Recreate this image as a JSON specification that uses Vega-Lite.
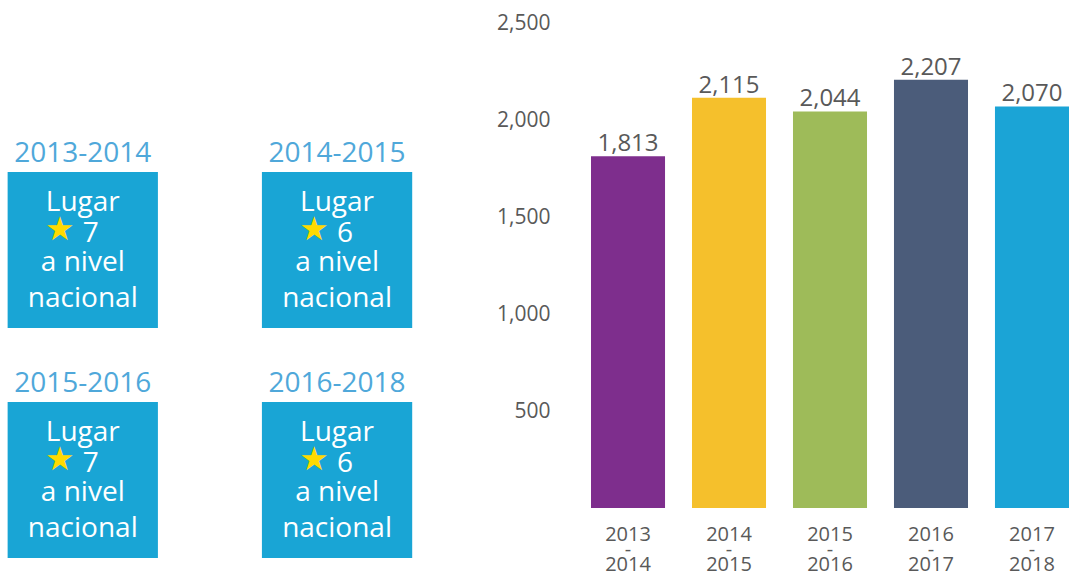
{
  "$schema": "https://vega.github.io/schema/vega-lite/v6.json",
  "padding": {"left": 0, "top": 12, "right": 0, "bottom": 0},
  "bounds": "flush",
  "spacing": 161,
  "config": {"view": {"stroke": null}, "font": "Open Sans"},
  "hconcat": [
    {
      "width": 430,
      "height": 535,
      "data": {"values": [
        {"period": "2013-2014", "rank": "7", "col": "c1", "row": "r1"},
        {"period": "2014-2015", "rank": "6", "col": "c2", "row": "r1"},
        {"period": "2015-2016", "rank": "7", "col": "c1", "row": "r2"},
        {"period": "2016-2018", "rank": "6", "col": "c2", "row": "r2"}
      ]},
      "encoding": {
        "x": {"field": "col", "type": "nominal", "axis": null, "scale": {"paddingInner": 0.409, "paddingOuter": 0.05, "align": 0.3}},
        "y": {"field": "row", "type": "nominal", "axis": null, "scale": {"paddingInner": 0.3217, "paddingOuter": 0.324, "align": 1}}
      },
      "layer": [
        {"mark": {"type": "rect", "color": "#19A5D5"}},
        {"mark": {"type": "text", "color": "#4FA8DA", "fontSize": 28, "baseline": "alphabetic", "dy": -88}, "encoding": {"text": {"field": "period"}}},
        {"mark": {"type": "text", "color": "white", "fontSize": 28, "baseline": "alphabetic", "dy": -39, "text": "Lugar"}},
        {"mark": {"type": "text", "color": "white", "fontSize": 28, "baseline": "alphabetic", "dy": -8, "dx": 8}, "encoding": {"text": {"field": "rank"}}},
        {"mark": {"type": "text", "color": "white", "fontSize": 28, "baseline": "alphabetic", "dy": 21, "text": "a nivel"}},
        {"mark": {"type": "text", "color": "white", "fontSize": 28, "baseline": "alphabetic", "dy": 57, "text": "nacional"}},
        {"mark": {"type": "text", "color": "#FFDA00", "font": "DejaVu Sans", "fontSize": 33, "baseline": "middle", "dy": -20, "dx": -23, "text": "★"}}
      ]
    },
    {
      "width": 478,
      "height": 485,
      "data": {"values": [
        {"period": "2013-2014", "value": 1813},
        {"period": "2014-2015", "value": 2115},
        {"period": "2015-2016", "value": 2044},
        {"period": "2016-2017", "value": 2207},
        {"period": "2017-2018", "value": 2070}
      ]},
      "encoding": {
        "x": {"field": "period", "type": "nominal", "sort": null, "title": null,
              "scale": {"paddingInner": 0.267, "paddingOuter": 0},
              "axis": {"labelExpr": "[slice(datum.value,0,4),'-',slice(datum.value,5)]", "labelLineHeight": 15, "labelFontSize": 20, "labelColor": "#595959", "ticks": false, "domain": false, "labelPadding": 16, "labelAngle": 0}},
        "y": {"field": "value", "type": "quantitative", "title": null,
              "scale": {"domain": [0, 2500], "nice": false},
              "axis": {"values": [500, 1000, 1500, 2000, 2500], "format": ",d", "labelFontSize": 21, "labelColor": "#595959", "ticks": false, "domain": false, "grid": false, "labelPadding": 41}}
      },
      "layer": [
        {"mark": {"type": "bar"}, "encoding": {"color": {"field": "period", "type": "nominal", "sort": null, "legend": null, "scale": {"range": ["#7E2E8D", "#F5C02C", "#9EBB59", "#4B5C7A", "#1BA4D6"]}}}},
        {"mark": {"type": "text", "baseline": "alphabetic", "dy": -5, "fontSize": 24, "color": "#595959"}, "encoding": {"text": {"field": "value", "type": "quantitative", "format": ",d"}}}
      ]
    }
  ]
}
